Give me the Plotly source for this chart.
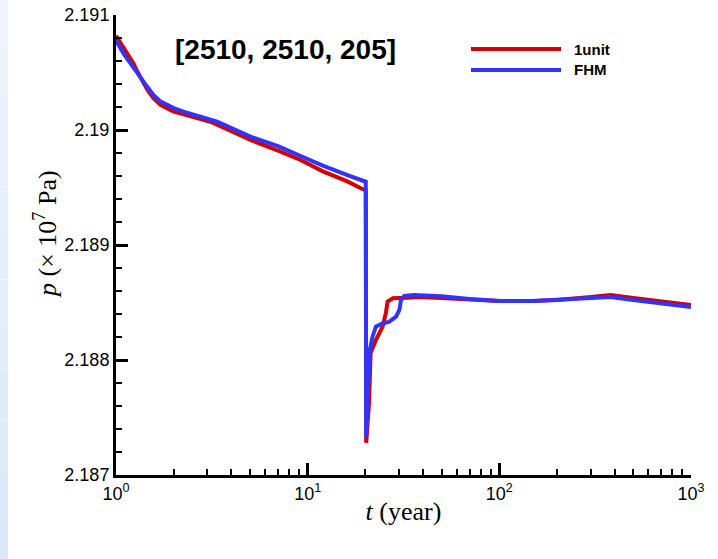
import plotly.graph_objects as go

# ---- data ----
t_unit = [1, 1.008, 1.1, 1.232, 1.30, 1.39, 1.47, 1.568, 1.70, 1.843, 2.0, 2.163, 2.54, 3.105,
          4, 5.03, 7, 9.19, 12, 16, 18.95, 20.1,
          20.2, 20.9, 21.3, 22.7, 24.6, 25.6, 26.1, 27.8, 33.2, 38, 50, 70, 100, 150, 200,
          300, 380, 500, 700, 1000]
p_unit = [2.19082, 2.190811, 2.19070, 2.190580, 2.19050, 2.190406, 2.19034, 2.190276, 2.19022,
          2.190189, 2.19016, 2.190145, 2.190116, 2.190072, 2.18999, 2.189913, 2.18982,
          2.189739, 2.18964, 2.189555, 2.189493, 2.189474,
          2.18728, 2.187626, 2.188061, 2.188174, 2.188290, 2.188409, 2.188507, 2.188537,
          2.188542, 2.188548, 2.188540, 2.188526, 2.188513, 2.188513, 2.188522,
          2.188548, 2.188565, 2.188539, 2.188509, 2.188478]

t_fhm = [1, 1.008, 1.1, 1.232, 1.30, 1.39, 1.47, 1.568, 1.70, 1.843, 2.0, 2.25, 2.754, 3.37,
         5.03, 7, 9.19, 12, 16, 18.95, 20.1,
         20.2, 20.6, 21.1, 21.8, 22.7, 24.1, 26.7, 28.9, 30.1, 30.7, 31.9, 35.9, 50, 70,
         100, 150, 200, 300, 380, 500, 700, 1000]
p_fhm = [2.19077, 2.190768, 2.19066, 2.190551, 2.19049, 2.19042, 2.19036, 2.190304, 2.19025,
         2.190217, 2.19019, 2.190159, 2.190116, 2.190072, 2.189942, 2.18986, 2.189774,
         2.18969, 2.18961, 2.189565, 2.18955,
         2.18733, 2.18765, 2.188087, 2.188203, 2.188290, 2.188313, 2.188333, 2.188377,
         2.188435, 2.188522, 2.188557, 2.188565, 2.188555, 2.188530, 2.188513, 2.188513,
         2.188522, 2.188539, 2.188548, 2.188522, 2.188491, 2.188461]

series_names = ["1unit", "FHM"]
series_colors = ["#d40000", "#3333ff"]
x_tickvals = [1, 10, 100, 1000]
x_ticktext = ["10<sup>0</sup>", "10<sup>1</sup>", "10<sup>2</sup>", "10<sup>3</sup>"]
y_tickvals = [2.187, 2.188, 2.189, 2.19, 2.191]
y_ticktext = ["2.187", "2.188", "2.189", "2.19", "2.191"]
title_text = "[2510, 2510, 205]"
x_title = "<i>t</i> (year)"
y_title = "<i>p</i> (× 10<sup>7</sup> Pa)"

# ---- figure ----
W, H = 718, 559
L, R, T, B = 116, 27, 15, 84
pw, ph = W - L - R, H - T - B


def px(xp):
    return (xp - L) / pw


def py(yp):
    return (H - B - yp) / ph


fig = go.Figure()
for tx, py_, name, col in [(t_unit, p_unit, series_names[0], series_colors[0]),
                           (t_fhm, p_fhm, series_names[1], series_colors[1])]:
    fig.add_trace(go.Scatter(x=tx, y=py_, mode="lines", name=name,
                             line=dict(color=col, width=4), showlegend=False))

minor_x = [m * d for d in (1, 10, 100) for m in range(2, 10)]

sans = "Arial, Liberation Sans, sans-serif"
tickfont = dict(family=sans, size=18, color="black")
serif = "Liberation Serif, Times New Roman, serif"

fig.update_layout(
    width=W, height=H,
    margin=dict(l=L, r=R, t=T, b=B, autoexpand=False),
    paper_bgcolor="white", plot_bgcolor="white",
    xaxis=dict(type="log", range=[0, 3], showgrid=False, zeroline=False,
               showline=True, linecolor="black", linewidth=3,
               ticks="inside", ticklen=12, tickwidth=2.5, tickcolor="black",
               tickvals=x_tickvals, ticktext=x_ticktext, tickfont=tickfont,
               minor=dict(tickvals=minor_x, ticks="inside", ticklen=6, tickwidth=1.5,
                          tickcolor="black", showgrid=False),
               title=dict(text=x_title, font=dict(family=serif, size=26, color="black"),
                          standoff=0),
               automargin=False),
    yaxis=dict(range=[2.187, 2.191], showgrid=False, zeroline=False,
               showline=True, linecolor="black", linewidth=3,
               ticks="inside", ticklen=12, tickwidth=2.5, tickcolor="black",
               tickvals=y_tickvals, ticktext=y_ticktext, tickfont=tickfont,
               minor=dict(dtick=0.0002, ticks="inside", ticklen=6, tickwidth=1.5,
                          tickcolor="black", showgrid=False),
               automargin=False),
)

# y-axis title placed slightly above centre, as in the reference
fig.add_annotation(xref="paper", yref="paper", x=px(45), y=py(234), text=y_title,
                   textangle=-90, showarrow=False, xanchor="center", yanchor="middle",
                   font=dict(family=serif, size=26, color="black"))

# left light-blue strip (page decoration)
shapes = []
nb = 12
for i in range(nb):
    y0p, y1p = H * i / nb, H * (i + 1) / nb
    f = (i + 0.5) / nb
    r = int(0xef + (0xdb - 0xef) * f)
    g = int(0xf4 + (0xe8 - 0xf4) * f)
    b = int(0xfd + (0xfa - 0xfd) * f)
    shapes.append(dict(type="rect", xref="paper", yref="paper",
                       x0=px(0), x1=px(8), y0=py(y1p), y1=py(y0p),
                       fillcolor=f"rgb({r},{g},{b})", line=dict(width=0), layer="below"))

# manual legend
legend_y = [49, 70]
for name, col, yy in zip(series_names, series_colors, legend_y):
    shapes.append(dict(type="line", xref="paper", yref="paper",
                       x0=px(471), x1=px(561), y0=py(yy), y1=py(yy),
                       line=dict(color=col, width=4)))
    fig.add_annotation(xref="paper", yref="paper", x=px(572), y=py(yy), text=f"<b>{name}</b>",
                       showarrow=False, xanchor="left", yanchor="middle",
                       font=dict(family=sans, size=15, color="black"))

fig.update_layout(shapes=shapes)

fig.add_annotation(xref="paper", yref="paper", x=px(285), y=py(49), text=f"<b>{title_text}</b>",
                   showarrow=False, xanchor="center", yanchor="middle",
                   font=dict(family=sans, size=28, color="black"))

fig.write_html("out.html")
